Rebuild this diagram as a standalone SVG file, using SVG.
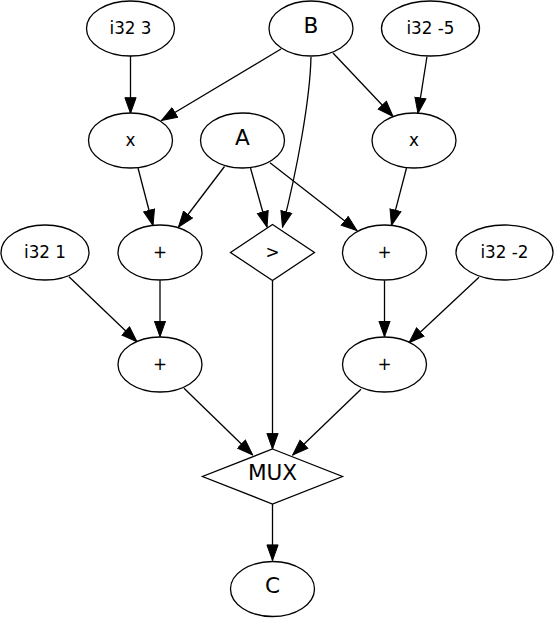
<svg xmlns="http://www.w3.org/2000/svg" width="554" height="618" viewBox="0 0 554 618">
<defs>
<style>
.n ellipse, .n polygon { fill: #fff; stroke: #000; stroke-width: 1.3; }
.n text { font-family: "DejaVu Sans", sans-serif; text-anchor: middle; fill: #000; }
.s { font-size: 16.8px; }
.l { font-size: 21.6px; }
.e path, .e line { fill: none; stroke: #000; stroke-width: 1.3; marker-end: url(#ah); }
</style>
<marker id="ah" markerUnits="userSpaceOnUse" markerWidth="17" markerHeight="13" viewBox="-0.5 -0.5 17 13" refX="15.6" refY="6" orient="auto">
<path d="M0,0.4 L15.6,6 L0,11.6 Z" fill="#000" stroke="#000" stroke-width="1"/>
</marker>
</defs>
<rect width="554" height="618" fill="#fff"/>
<g id="edges" class="e">
<line x1="130.5" y1="56" x2="130.5" y2="113.3"/>
<line x1="281" y1="49" x2="161.5" y2="120.5"/>
<path d="M311,57 C310,100 297,170 282.5,227"/>
<line x1="333" y1="53" x2="393" y2="116.5"/>
<line x1="427" y1="56.5" x2="418" y2="113.3"/>
<line x1="138" y1="168" x2="153" y2="225.5"/>
<line x1="224.5" y1="166.5" x2="178.5" y2="227"/>
<line x1="250.5" y1="168" x2="267" y2="227"/>
<line x1="270" y1="162.7" x2="357" y2="230.5"/>
<line x1="406.5" y1="168" x2="391.5" y2="225.3"/>
<line x1="69" y1="276.7" x2="137" y2="341.7"/>
<line x1="160" y1="280.5" x2="160" y2="336.7"/>
<line x1="272.5" y1="281" x2="272.5" y2="449"/>
<line x1="384.5" y1="280.5" x2="384.5" y2="336.7"/>
<line x1="479" y1="277.3" x2="409" y2="342.7"/>
<line x1="184" y1="388.3" x2="252.7" y2="455"/>
<line x1="361" y1="389.3" x2="292.7" y2="455"/>
<line x1="272.5" y1="504" x2="272.5" y2="560.5"/>
</g>
<g id="n_i32_3" class="n"><ellipse cx="130.5" cy="28.5" rx="44" ry="27.5"/><text class="s" x="130.5" y="33.5">i32 3</text></g>
<g id="n_B" class="n"><ellipse cx="311" cy="28.5" rx="42" ry="27.5"/><text class="l" x="311" y="32.5">B</text></g>
<g id="n_i32_m5" class="n"><ellipse cx="430.5" cy="28.5" rx="49" ry="27.5"/><text class="s" x="430.5" y="33.5">i32 -5</text></g>
<g id="n_mul_l" class="n"><ellipse cx="130.5" cy="140.5" rx="42" ry="27.5"/><text class="s" x="130.5" y="145.5">x</text></g>
<g id="n_A" class="n"><ellipse cx="242.5" cy="140.5" rx="42" ry="27.5"/><text class="l" x="242.5" y="144.5">A</text></g>
<g id="n_mul_r" class="n"><ellipse cx="414" cy="140.5" rx="42" ry="27.5"/><text class="s" x="414" y="145.5">x</text></g>
<g id="n_i32_1" class="n"><ellipse cx="45" cy="252.5" rx="44" ry="27.5"/><text class="s" x="45" y="257.5">i32 1</text></g>
<g id="n_add_l" class="n"><ellipse cx="160" cy="252.5" rx="42" ry="27.5"/><text class="s" x="160" y="257.5">+</text></g>
<g id="n_gt" class="n"><polygon points="272.5,224.5 314.5,252.5 272.5,280.5 230.5,252.5"/><text class="s" x="272.5" y="257.5">&gt;</text></g>
<g id="n_add_r" class="n"><ellipse cx="384.5" cy="252.5" rx="42" ry="27.5"/><text class="s" x="384.5" y="257.5">+</text></g>
<g id="n_i32_m2" class="n"><ellipse cx="504.5" cy="252.5" rx="48.5" ry="27.5"/><text class="s" x="504.5" y="257.5">i32 -2</text></g>
<g id="n_add_bl" class="n"><ellipse cx="160" cy="364.5" rx="42" ry="27.5"/><text class="s" x="160" y="369.5">+</text></g>
<g id="n_add_br" class="n"><ellipse cx="384.5" cy="364.5" rx="42" ry="27.5"/><text class="s" x="384.5" y="369.5">+</text></g>
<g id="n_mux" class="n"><polygon points="272.5,449 342.5,476.5 272.5,504 202.5,476.5"/><text class="l" x="272.5" y="480">MUX</text></g>
<g id="n_C" class="n"><ellipse cx="272.5" cy="589" rx="42" ry="27.5"/><text class="l" x="272.5" y="593">C</text></g>
</svg>
